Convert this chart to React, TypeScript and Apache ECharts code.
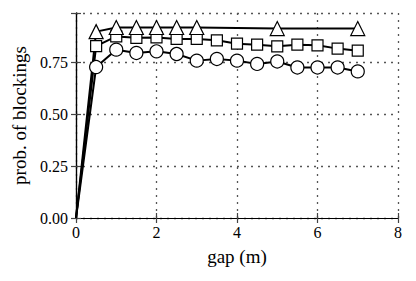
import React, { useEffect, useRef } from "react";
import * as echarts from "echarts";

const triangleX = [0, 0.5, 1, 1.5, 2, 2.5, 3, 5, 7];
const triangleY = [0, 0.9, 0.92, 0.92, 0.92, 0.92, 0.92, 0.915, 0.915];

const gapX = [0, 0.5, 1, 1.5, 2, 2.5, 3, 3.5, 4, 4.5, 5, 5.5, 6, 6.5, 7];
const squareY = [0, 0.83, 0.877, 0.87, 0.872, 0.865, 0.865, 0.858, 0.842, 0.837, 0.829, 0.837, 0.834, 0.818, 0.808];
const circleY = [0, 0.729, 0.813, 0.797, 0.805, 0.792, 0.76, 0.768, 0.76, 0.744, 0.756, 0.727, 0.727, 0.727, 0.708];

const xTicks = [0, 2, 4, 6, 8];
const yTicks = [0, 0.25, 0.5, 0.75];

const FONT = "Liberation Serif";

export default function App() {
  const ref = useRef<HTMLDivElement>(null);
  useEffect(() => {
    if (!ref.current) return;
    const chart = echarts.init(ref.current, undefined, { renderer: "svg" });
    const pair = (xs: number[], ys: number[]) =>
      xs.map((x, i) => (i === 0 ? { value: [x, ys[i]], symbol: "none" } : [x, ys[i]]));
    const gridLine = { show: true, lineStyle: { color: "#555", type: [2, 5] as any, width: 1.3 } };
    const mkSeries = (name: string, data: any[], symbol: string, size: number) => ({
      name,
      type: "line",
      data,
      symbol,
      symbolSize: size,
      showAllSymbol: true,
      clip: true,
      lineStyle: { color: "#000", width: 2 },
      itemStyle: { color: "#fff", borderColor: "#000", borderWidth: 1.2 },
      z: 3,
    });
    chart.setOption({
      animation: false,
      backgroundColor: "#fff",
      textStyle: { fontFamily: FONT },
      grid: { left: 76, top: 13, width: 322, height: 205, containLabel: false },
      xAxis: [
        {
          type: "value",
          min: 0,
          max: 8,
          interval: 2,
          position: "bottom",
          name: "gap (m)",
          nameLocation: "middle",
          nameGap: 29,
          nameTextStyle: { fontFamily: FONT, fontSize: 19, color: "#000" },
          axisLine: { show: true, onZero: false, lineStyle: { color: "#000", width: 1.2 } },
          axisTick: { show: true, inside: true, length: 5, lineStyle: { color: "#444", width: 1.2 } },
          axisLabel: { fontFamily: FONT, fontSize: 16, color: "#000", margin: 6, formatter: (v: number) => (xTicks.includes(v) ? String(v) : "") },
          splitLine: gridLine,
        },
        {
          type: "value",
          min: 0,
          max: 8,
          interval: 2,
          position: "top",
          axisLine: { show: true, lineStyle: { color: "#000", width: 1.2 } },
          axisTick: { show: true, inside: true, length: 5, lineStyle: { color: "#444", width: 1.2 } },
          axisLabel: { show: false },
          splitLine: { show: false },
        },
      ],
      yAxis: [
        {
          type: "value",
          min: 0,
          max: 0.99,
          interval: 0.25,
          position: "left",
          name: "prob. of blockings",
          nameLocation: "middle",
          nameGap: 47,
          nameTextStyle: { fontFamily: FONT, fontSize: 19, color: "#000" },
          axisLine: { show: true, onZero: false, lineStyle: { color: "#000", width: 1.2 } },
          axisTick: { show: true, inside: true, length: 5, lineStyle: { color: "#444", width: 1.2 } },
          axisLabel: {
            fontFamily: FONT,
            fontSize: 16,
            color: "#000",
            margin: 8,
            formatter: (v: number) => (yTicks.some((t) => Math.abs(t - v) < 1e-9) ? v.toFixed(2) : ""),
          },
          splitLine: gridLine,
        },
        {
          type: "value",
          min: 0,
          max: 0.99,
          interval: 0.25,
          position: "right",
          axisLine: { show: true, lineStyle: { color: "#000", width: 1.2 } },
          axisTick: { show: true, inside: true, length: 5, lineStyle: { color: "#444", width: 1.2 } },
          axisLabel: { show: false },
          splitLine: { show: false },
        },
      ],
      series: [
        mkSeries("circle", pair(gapX, circleY), "circle", 13),
        mkSeries("square", pair(gapX, squareY), "rect", 11),
        mkSeries("triangle", pair(triangleX, triangleY), "triangle", 14),
      ],
    });
    return () => chart.dispose();
  }, []);
  return <div ref={ref} style={{ position: "fixed", left: 0, top: 0, width: 416, height: 281 }} />;
}
